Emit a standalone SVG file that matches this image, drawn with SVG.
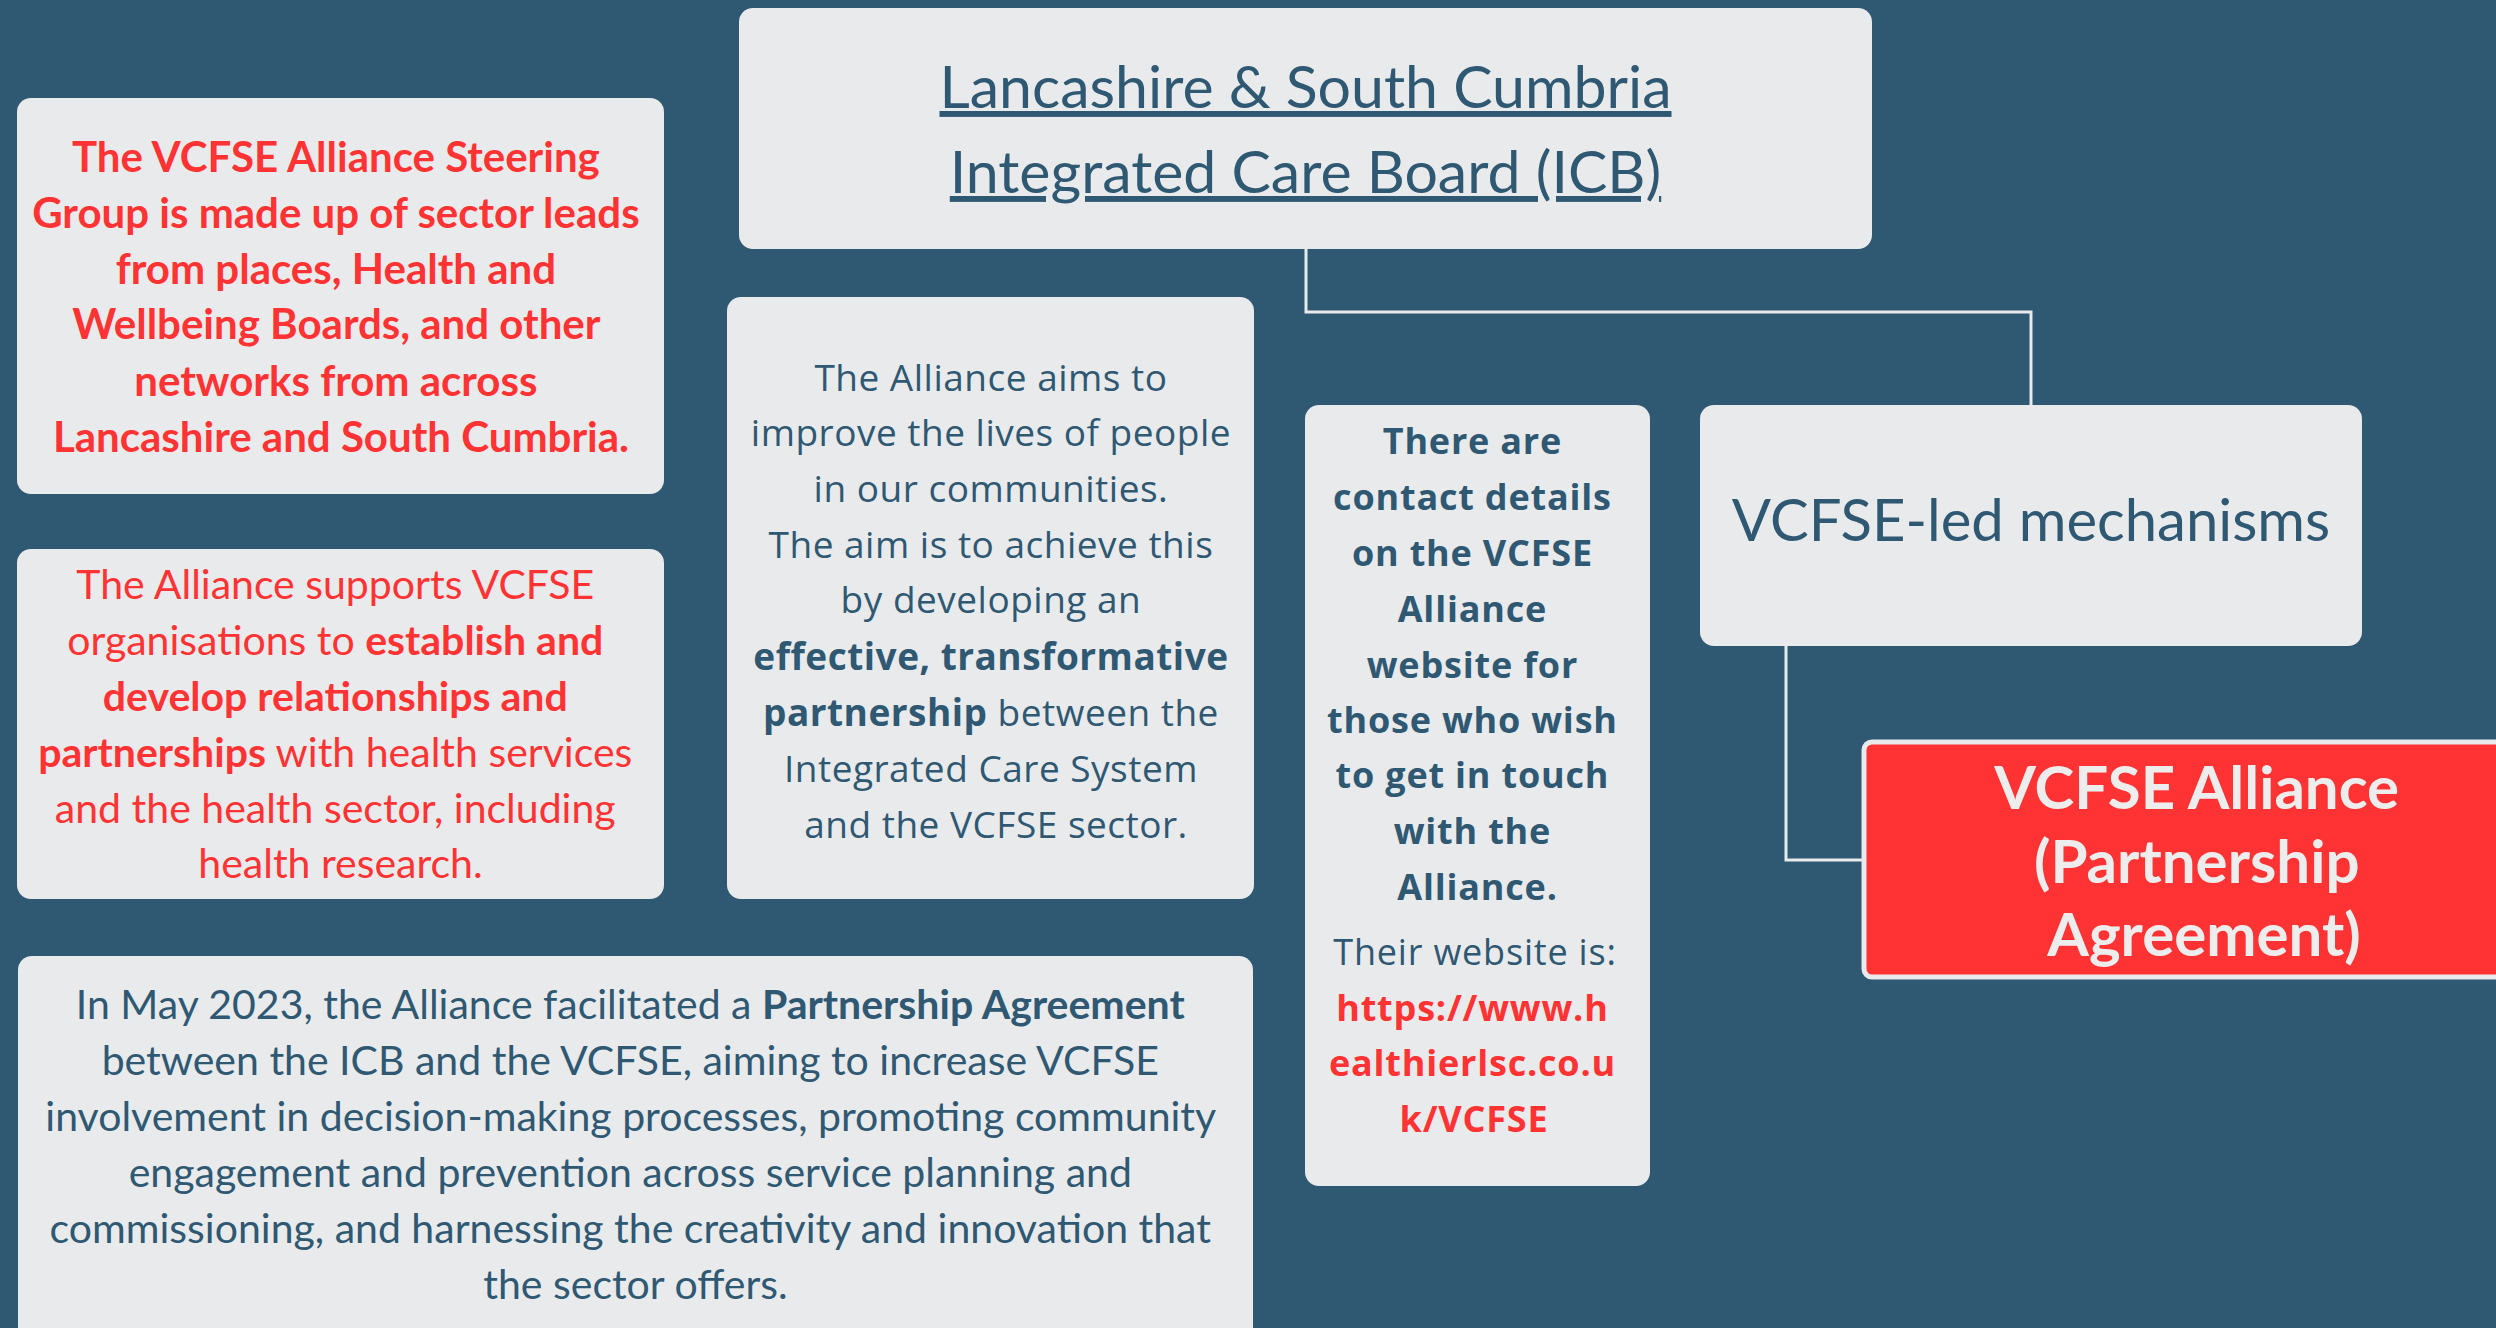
<svg xmlns="http://www.w3.org/2000/svg" width="2496" height="1328" viewBox="0 0 2496 1328">
<style>
.box{fill:#E9EAEC}
.t{font-family:Lato,"Liberation Sans",sans-serif;text-anchor:middle}
.o{font-family:"Open Sans","Liberation Sans",sans-serif;text-anchor:middle}
.red{fill:#FF3333}
.blue{fill:#2F5872}
.b{font-weight:700}
.conn{fill:none;stroke:#E9EAEC;stroke-width:3}
</style>
<rect width="2496" height="1328" fill="#2F5872"/>
<g id="connectors">
<polyline class="conn" points="1306,249 1306,312 2031,312 2031,405"/>
<polyline class="conn" points="1786,646 1786,860 1862,860"/>
</g>
<g id="icb">
<rect class="box" x="739" y="8" width="1133" height="241" rx="14"/>
<text class="t blue" font-size="59" x="1305.5" text-decoration="underline"><tspan x="1305.5" y="108">Lancashire &amp; South Cumbria</tspan><tspan x="1305.5" y="193">Integrated Care Board (ICB)</tspan></text>
</g>
<g id="steering">
<rect class="box" x="17" y="98" width="647" height="396" rx="14"/>
<text class="t red b" font-size="42">
<tspan x="341" y="172">The VCFSE Alliance Steering</tspan>
<tspan x="341" y="228">Group is made up of sector leads</tspan>
<tspan x="341" y="284">from places, Health and</tspan>
<tspan x="341" y="339">Wellbeing Boards, and other</tspan>
<tspan x="341" y="396">networks from across</tspan>
<tspan x="341" y="452">Lancashire and South Cumbria.</tspan>
</text>
</g>
<g id="supports">
<rect class="box" x="17" y="549" width="647" height="350" rx="14"/>
<text class="t red" font-size="41">
<tspan x="340.5" y="599">The Alliance supports VCFSE</tspan>
<tspan x="340.5" y="655">organisations to <tspan class="b">establish and</tspan></tspan>
<tspan x="340.5" y="711" class="b">develop relationships and</tspan>
<tspan x="340.5" y="767"><tspan class="b">partnerships</tspan> with health services</tspan>
<tspan x="340.5" y="823">and the health sector, including</tspan>
<tspan x="340.5" y="878">health research.</tspan>
</text>
</g>
<g id="aims">
<rect class="box" x="727" y="297" width="527" height="602" rx="14"/>
<text class="o blue" font-size="37" letter-spacing="0.5">
<tspan x="996" y="391">The Alliance aims to</tspan>
<tspan x="996" y="446">improve the lives of people</tspan>
<tspan x="996" y="502">in our communities.</tspan>
<tspan x="996" y="558">The aim is to achieve this</tspan>
<tspan x="996" y="613">by developing an</tspan>
<tspan x="996" y="670" class="b">effective, transformative</tspan>
<tspan x="996" y="726"><tspan class="b">partnership</tspan> between the</tspan>
<tspan x="996" y="782">Integrated Care System</tspan>
<tspan x="996" y="838">and the VCFSE sector.</tspan>
</text>
</g>
<g id="contact">
<rect class="box" x="1305" y="405" width="345" height="781" rx="14"/>
<text class="o blue b" font-size="36" letter-spacing="0.8">
<tspan x="1477.5" y="454">There are</tspan>
<tspan x="1477.5" y="510">contact details</tspan>
<tspan x="1477.5" y="566">on the VCFSE</tspan>
<tspan x="1477.5" y="622">Alliance</tspan>
<tspan x="1477.5" y="678">website for</tspan>
<tspan x="1477.5" y="733">those who wish</tspan>
<tspan x="1477.5" y="788">to get in touch</tspan>
<tspan x="1477.5" y="844">with the</tspan>
<tspan x="1477.5" y="900">Alliance.</tspan>
</text>
<text class="o blue" font-size="36" letter-spacing="0.8" x="1475" y="965">Their website is:</text>
<text class="o red b" font-size="36" letter-spacing="0.8">
<tspan x="1477.5" y="1021">https://www.h</tspan>
<tspan x="1477.5" y="1076">ealthierlsc.co.u</tspan>
<tspan x="1474" y="1132">k/VCFSE</tspan>
</text>
</g>
<g id="mechanisms">
<rect class="box" x="1700" y="405" width="662" height="241" rx="14"/>
<text class="t blue" font-size="58" x="2031" y="541">VCFSE-led mechanisms</text>
</g>
<g id="alliance">
<rect x="1864" y="742" width="700" height="235" rx="8" fill="#FF3333" stroke="#E9EAEC" stroke-width="5"/>
<text class="t b" font-size="60" fill="#EDEDED">
<tspan x="2204" y="809">VCFSE Alliance</tspan>
<tspan x="2204" y="883">(Partnership</tspan>
<tspan x="2204" y="956">Agreement)</tspan>
</text>
</g>
<g id="agreement">
<rect class="box" x="18" y="956" width="1235" height="420" rx="14"/>
<text class="t blue" font-size="41">
<tspan x="635.5" y="1019">In May 2023, the Alliance facilitated a <tspan class="b">Partnership Agreement</tspan></tspan>
<tspan x="635.5" y="1075">between the ICB and the VCFSE, aiming to increase VCFSE</tspan>
<tspan x="635.5" y="1131">involvement in decision-making processes, promoting community</tspan>
<tspan x="635.5" y="1187">engagement and prevention across service planning and</tspan>
<tspan x="635.5" y="1243">commissioning, and harnessing the creativity and innovation that</tspan>
<tspan x="635.5" y="1299">the sector offers.</tspan>
</text>
</g>
</svg>
